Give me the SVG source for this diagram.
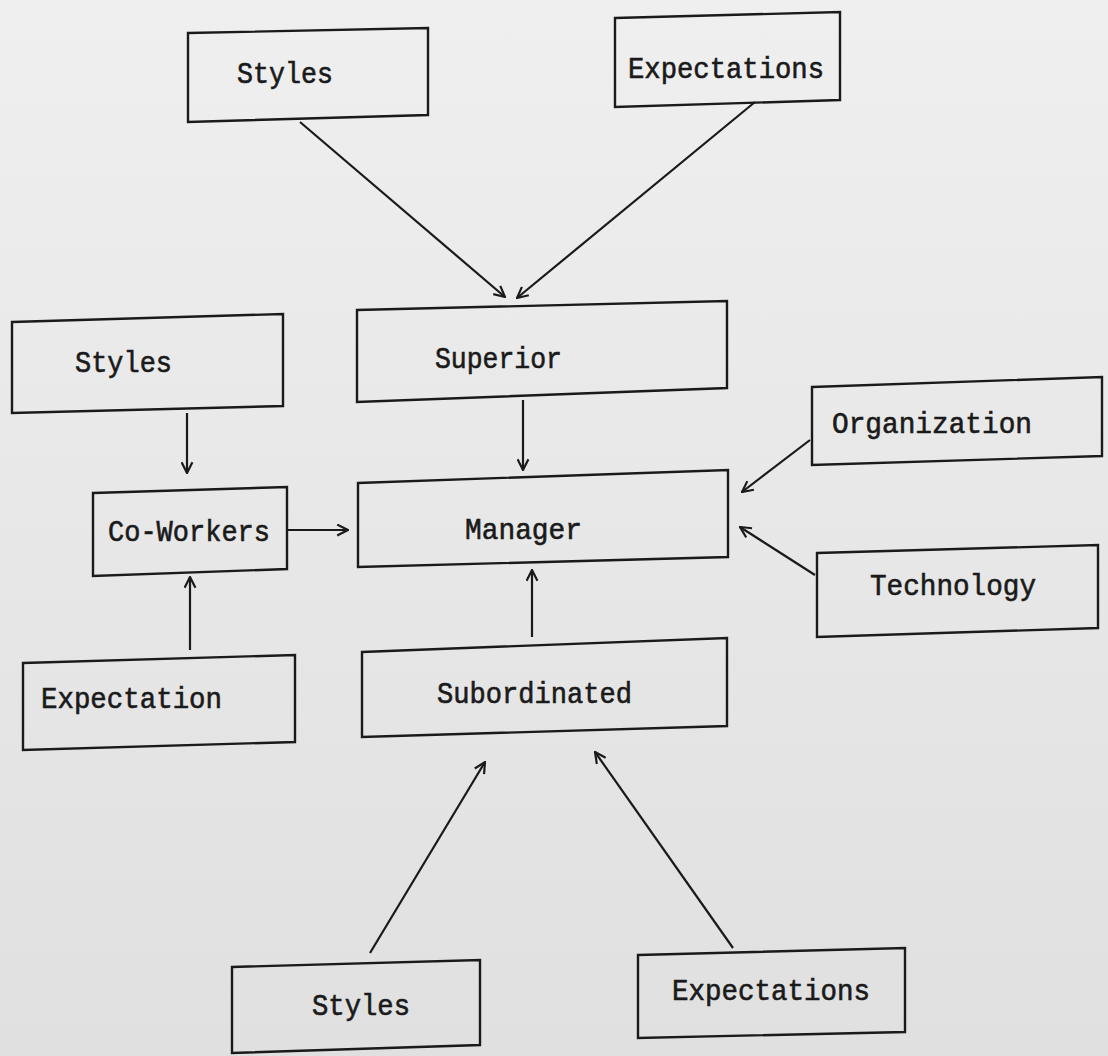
<svg xmlns="http://www.w3.org/2000/svg" width="1108" height="1056" viewBox="0 0 1108 1056">
  <defs>
    <linearGradient id="paper" x1="0" y1="0" x2="0" y2="1">
      <stop offset="0" stop-color="#efefef"/>
      <stop offset="1" stop-color="#e0e0e0"/>
    </linearGradient>
    <marker id="arr" viewBox="0 0 12 12" refX="11" refY="6" markerWidth="13" markerHeight="13" markerUnits="userSpaceOnUse" orient="auto">
      <path d="M1,1 L11,6 L1,11" fill="none" stroke="#1a1a1a" stroke-width="2"/>
    </marker>
  </defs>
  <style>
    .box { fill: none; stroke: #1a1a1a; stroke-width: 2.4; stroke-linejoin: miter; }
    .lbl { font-family: "Liberation Mono", "Courier New", monospace; font-size: 29px; fill: #1a1a1a; stroke: #1a1a1a; stroke-width: 0.6; }
    .con { fill: none; stroke: #1a1a1a; stroke-width: 2.2; marker-end: url(#arr); }
  </style>
  <rect x="0" y="0" width="1108" height="1056" fill="url(#paper)"/>

  <g id="styles-top">
    <path class="box" d="M188,33 L428,28 L428,115 L188,122 Z"/>
    <text class="lbl" x="237" y="83" textLength="96" lengthAdjust="spacingAndGlyphs">Styles</text>
  </g>
  <g id="expectations-top">
    <path class="box" d="M615,18 L840,12 L840,100 L615,107 Z"/>
    <text class="lbl" x="628" y="78" textLength="196" lengthAdjust="spacingAndGlyphs">Expectations</text>
  </g>
  <g id="superior">
    <path class="box" d="M357,310 L727,301 L727,388 L357,402 Z"/>
    <text class="lbl" x="435" y="368" textLength="127" lengthAdjust="spacingAndGlyphs">Superior</text>
  </g>
  <g id="manager">
    <path class="box" d="M358,483 L728,470 L728,557 L358,567 Z"/>
    <text class="lbl" x="465" y="539" textLength="117" lengthAdjust="spacingAndGlyphs">Manager</text>
  </g>
  <g id="subordinated">
    <path class="box" d="M362,652 L727,638 L727,726 L362,737 Z"/>
    <text class="lbl" x="437" y="703" textLength="195" lengthAdjust="spacingAndGlyphs">Subordinated</text>
  </g>
  <g id="styles-left">
    <path class="box" d="M12,322 L283,314 L283,406 L12,413 Z"/>
    <text class="lbl" x="75" y="372" textLength="97" lengthAdjust="spacingAndGlyphs">Styles</text>
  </g>
  <g id="co-workers">
    <path class="box" d="M93,493 L287,487 L287,569 L93,576 Z"/>
    <text class="lbl" x="108" y="541" textLength="162" lengthAdjust="spacingAndGlyphs">Co-Workers</text>
  </g>
  <g id="expectation-left">
    <path class="box" d="M23,663 L295,655 L295,742 L23,750 Z"/>
    <text class="lbl" x="41" y="708" textLength="181" lengthAdjust="spacingAndGlyphs">Expectation</text>
  </g>
  <g id="organization">
    <path class="box" d="M812,387 L1102,377 L1102,456 L812,465 Z"/>
    <text class="lbl" x="832" y="433" textLength="200" lengthAdjust="spacingAndGlyphs">Organization</text>
  </g>
  <g id="technology">
    <path class="box" d="M817,553 L1098,545 L1098,628 L817,637 Z"/>
    <text class="lbl" x="870" y="595" textLength="166" lengthAdjust="spacingAndGlyphs">Technology</text>
  </g>
  <g id="styles-bottom">
    <path class="box" d="M232,967 L480,960 L480,1045 L232,1053 Z"/>
    <text class="lbl" x="312" y="1015" textLength="98" lengthAdjust="spacingAndGlyphs">Styles</text>
  </g>
  <g id="expectations-bottom">
    <path class="box" d="M638,955 L905,948 L905,1032 L638,1038 Z"/>
    <text class="lbl" x="672" y="1000" textLength="198" lengthAdjust="spacingAndGlyphs">Expectations</text>
  </g>

  <g id="connectors">
    <line class="con" x1="300" y1="122" x2="505" y2="297"/>
    <line class="con" x1="755" y1="102" x2="517" y2="298"/>
    <line class="con" x1="187" y1="413" x2="187" y2="473"/>
    <line class="con" x1="190" y1="650" x2="190" y2="577"/>
    <line class="con" x1="288" y1="530" x2="348" y2="530"/>
    <line class="con" x1="523" y1="400" x2="523" y2="470"/>
    <line class="con" x1="532" y1="637" x2="532" y2="570"/>
    <line class="con" x1="810" y1="440" x2="742" y2="492"/>
    <line class="con" x1="815" y1="575" x2="740" y2="527"/>
    <line class="con" x1="370" y1="953" x2="485" y2="762"/>
    <line class="con" x1="733" y1="948" x2="595" y2="752"/>
  </g>
</svg>
